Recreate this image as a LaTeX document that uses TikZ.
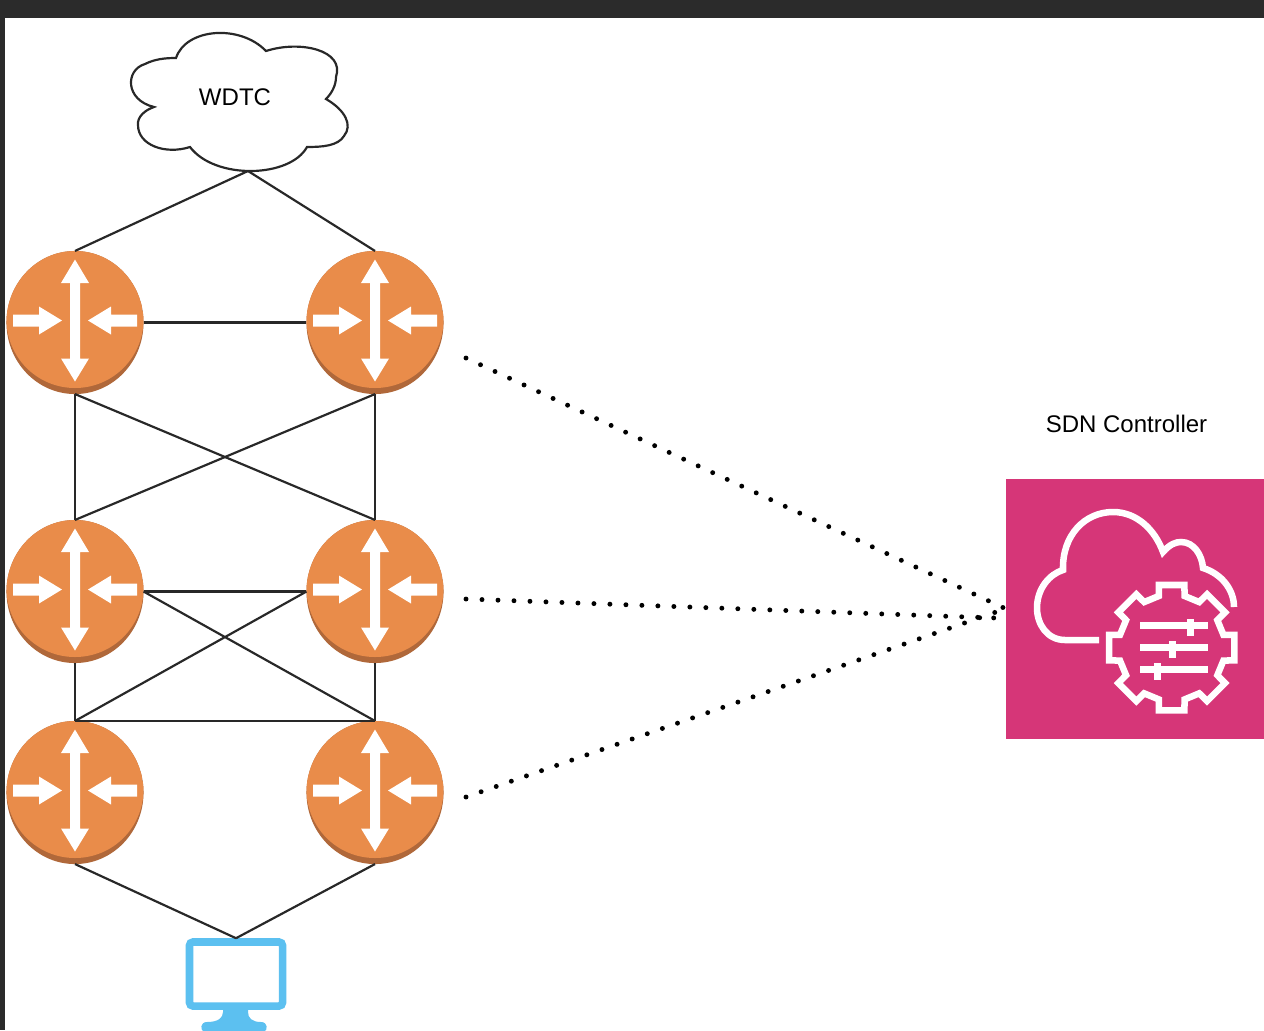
\documentclass[tikz,border=0pt]{standalone}
\usepackage{fontspec}
\setmainfont{Liberation Sans}
\usetikzlibrary{shapes.geometric}
\definecolor{routerfill}{RGB}{233,140,74}
\definecolor{routeredge}{RGB}{176,104,58}
\definecolor{sdnpink}{RGB}{214,54,120}
\definecolor{screenblue}{RGB}{92,192,240}
\definecolor{barcolor}{RGB}{43,43,43}
\definecolor{linkgray}{RGB}{40,40,40}

\begin{document}
\begin{tikzpicture}[
  x=0.01cm, y=-0.01cm,
  label/.style={font=\fontsize{6.83}{8}\selectfont, inner sep=0pt},
  router/.style={ellipse, fill=routeredge, minimum width=1.37cm, minimum height=1.43cm,
                 inner sep=0pt, outer sep=0pt, path picture={
    \begin{scope}[shift={(path picture bounding box.center)}]
      \fill[routerfill] (0,-3) circle[radius=68.5];
      \fill[white] (0,-63) -- (14,-39.5) -- (5,-39.5) -- (5,36) -- (14,36) -- (0,59)
        -- (-14,36) -- (-5,36) -- (-5,-39.5) -- (-14,-39.5) -- cycle;
      \fill[white] (-62,-8) -- (-36,-8) -- (-36,-16) -- (-13,-2) -- (-36,12) -- (-36,4) -- (-62,4) -- cycle;
      \fill[white] (62,-8) -- (36,-8) -- (36,-16) -- (13,-2) -- (36,12) -- (36,4) -- (62,4) -- cycle;
    \end{scope}}},
  link/.style={draw=linkgray, line width=0.62pt},
  control/.style={line width=1.4pt, line cap=round, dash pattern=on 0pt off 4.55pt},
  icon/.style={draw=white, line width=1.85pt},
  screen/.style={rectangle, draw=screenblue, fill=white, line width=2.15pt, rounded corners=1pt,
                 minimum width=0.93cm, minimum height=0.64cm, inner sep=0pt}
]
  \clip (0,0) rectangle (1264,1030);
  \fill[barcolor] (0,0) rectangle (1264,1030);
  \fill[white] (5,17.5) rectangle (1264,1030);

  \draw[linkgray, line width=0.62pt, fill=white] (176,58)
    .. controls (186,28) and (240,24) .. (266,51)
    .. controls (300,40) and (345,50) .. (336,77)
    .. controls (336,85) and (332,93) .. (326,99)
    .. controls (345,110) and (353,125) .. (344,136)
    .. controls (338,146) and (322,147) .. (307,147)
    .. controls (290,178) and (215,180) .. (190,147)
    .. controls (165,155) and (138,145) .. (138,125)
    .. controls (137,117) and (145,110) .. (154,107)
    .. controls (125,100) and (125,70) .. (145,64)
    .. controls (155,59) and (165,58) .. (176,58) -- cycle;
  \node[label] (wdtc) at (235,97) {WDTC};
  \coordinate (wdtcfoot) at (248,171);

  \node[router] (edgeleft)  at (75,322.5) {};
  \node[router] (edgeright) at (375,322.5) {};
  \node[router] (coreleft)  at (75,591.5) {};
  \node[router] (coreright) at (375,591.5) {};
  \node[router] (accleft)   at (75,792.5) {};
  \node[router] (accright)  at (375,792.5) {};

  \node[screen] (pc) at (236,974) {};
  \fill[screenblue] (223,1008) -- (223,1012) .. controls (223,1018) and (218,1022) .. (207,1022)
    .. controls (200,1022) and (200,1030) .. (204,1032) -- (264,1032)
    .. controls (268,1030) and (268,1022) .. (261,1022)
    .. controls (252,1022) and (248,1018) .. (248,1012) -- (248,1008) -- cycle;

  \node[rectangle, fill=sdnpink, minimum width=2.6cm, minimum height=2.6cm, inner sep=0pt] (sdn) at (1136,609) {};
  \node[label] (sdnlabel) at (1126.5,424) {SDN Controller};

  \draw[icon] (1099,640) -- (1065,640) .. controls (1047,640) and (1037,624) .. (1037,608)
    .. controls (1037,588) and (1050,574) .. (1063,570)
    .. controls (1062,535) and (1085,512) .. (1113,512)
    .. controls (1137,512) and (1155,530) .. (1163,552)
    .. controls (1170,544) and (1176,542) .. (1181,542)
    .. controls (1194,542) and (1202,555) .. (1203,568)
    .. controls (1222,574) and (1234,590) .. (1234,607);
  \begin{scope}[shift={(1171.7,647.7)}]
    \draw[icon, line join=miter] (-13.9:53.3)
      \foreach \ang in {0,45,...,315} {
        -- (\ang-13.9:53.3) -- (\ang-11.5:64) -- (\ang+11.5:64) -- (\ang+13.9:53.3)
      } -- cycle;
  \end{scope}
  \draw[icon] (1140,625.7) -- (1208,625.7);
  \draw[icon] (1140,647.7) -- (1208,647.7);
  \draw[icon] (1140,669.3) -- (1208,669.3);
  \draw[icon] (1190.7,619) -- (1190.7,636);
  \draw[icon] (1172.3,641) -- (1172.3,658);
  \draw[icon] (1157.7,663) -- (1157.7,680);

  \draw[link] (wdtcfoot) -- (edgeleft.north);
  \draw[link] (wdtcfoot) -- (edgeright.north);
  \draw[link] (edgeleft.east) -- (edgeright.west);
  \draw[link] (edgeleft.south) -- (coreleft.north);
  \draw[link] (edgeright.south) -- (coreright.north);
  \draw[link] (edgeleft.south) -- (coreright.north);
  \draw[link] (edgeright.south) -- (coreleft.north);
  \draw[link] (coreleft.east) -- (coreright.west);
  \draw[link] (coreleft.east) -- (accright.north);
  \draw[link] (coreright.west) -- (accleft.north);
  \draw[link] (accleft.north) -- (accright.north);
  \draw[link] (coreleft.south) -- (accleft.north);
  \draw[link] (coreright.south) -- (accright.north);
  \draw[link] (accleft.south) -- (pc.north);
  \draw[link] (accright.south) -- (pc.north);

  \coordinate (tapa) at (466,358);
  \coordinate (tapb) at (466,599);
  \coordinate (tapc) at (466,797);
  \coordinate (sdna) at (1004,608);
  \coordinate (sdnb) at (996,618);
  \coordinate (sdnc) at (996,612);
  \draw[control] (tapa) -- (sdna);
  \draw[control] (tapb) -- (sdnb);
  \draw[control] (tapc) -- (sdnc);
\end{tikzpicture}
\end{document}
